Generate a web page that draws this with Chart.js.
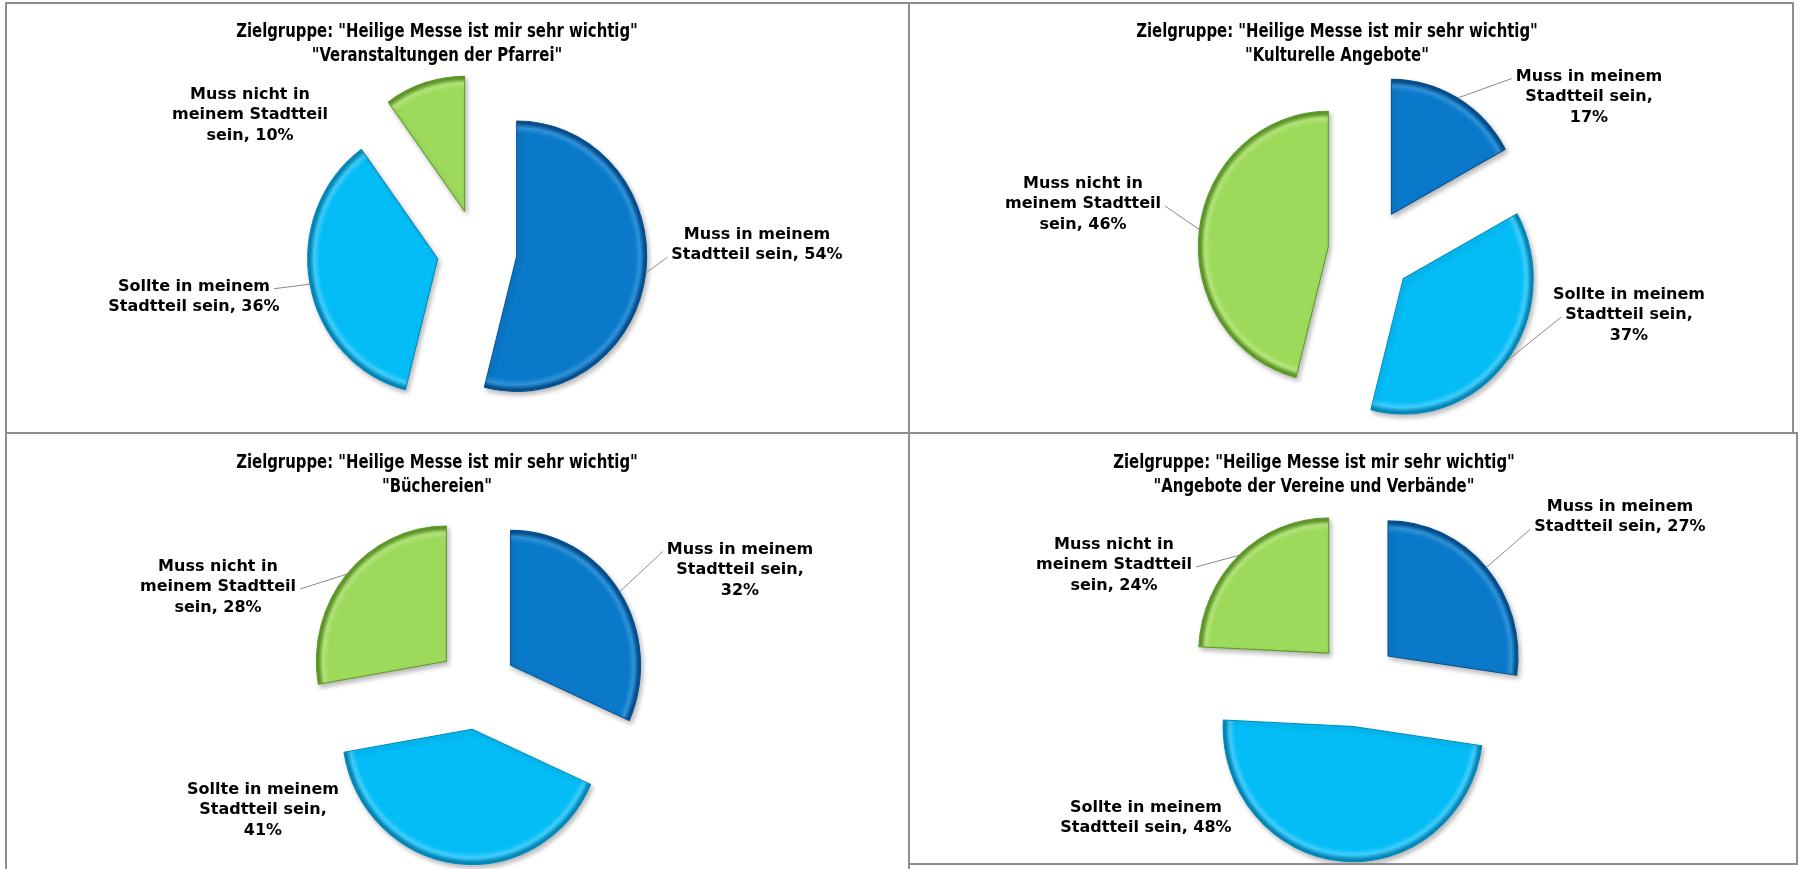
<!DOCTYPE html>
<html>
<head>
<meta charset="utf-8">
<script src="https://cdn.jsdelivr.net/npm/chart.js@4.4.1/dist/chart.umd.min.js"></script>
<style>
  html, body { margin: 0; padding: 0; background: #fff; }
  body { width: 1798px; height: 869px; position: relative; overflow: hidden; }
  .panel { position: absolute; box-sizing: border-box; border: 2px solid #8e8e8e; background: #fff; }
  .panel canvas { display: block; }
</style>
</head>
<body>
<div class="panel" style="left:5px;top:2px;width:905px;height:432px"><canvas id="c1" width="901" height="428"></canvas></div>
<div class="panel" style="left:908px;top:2px;width:886px;height:432px"><canvas id="c2" width="882" height="428"></canvas></div>
<div class="panel" style="left:5px;top:432px;width:905px;height:445px"><canvas id="c3" width="901" height="441"></canvas></div>
<div class="panel" style="left:908px;top:432px;width:890px;height:433px"><canvas id="c4" width="886" height="429"></canvas></div>
<script>
// Daten
const zielgruppe = 'Zielgruppe: "Heilige Messe ist mir sehr wichtig"';
const themen = ['"Veranstaltungen der Pfarrei"', '"Kulturelle Angebote"', '"Büchereien"', '"Angebote der Vereine und Verbände"'];
const kategorien = ['Muss in meinem Stadtteil sein', 'Sollte in meinem Stadtteil sein', 'Muss nicht in meinem Stadtteil sein'];
const veranstaltungen = [54, 36, 10];
const kulturelle = [17, 37, 46];
const buechereien = [32, 41, 28];
const vereine = [27, 48, 24];

const farben = ['#0a79c9', '#04bdf6', '#9dd95b'];
const hell = ['#2f93da', '#40cdfc', '#b4e67a'];
const dunkel = ['#05508f', '#0389ba', '#5f9a2a'];

const RADIUS = 130;
const STRETCH_Y = 1.04;   // leichte Perspektive wie im Original
const SHIFT_Y = 3;
const TITLE_FONT = "bold 19px 'DejaVu Sans Condensed', 'DejaVu Sans', sans-serif";
const TITLE_SQUEEZE = 0.87;
const LABEL_FONT = "bold 16px 'DejaVu Sans', Verdana, sans-serif";
const LINE_H = 20.5;

// Anordnung (Pixel im jeweiligen Canvas); anchor = Zeile, an der die Führungslinie ansetzt
const panels = [
  { canvas: 'c1', werte: veranstaltungen, thema: themen[0], titleX: 430, titleY: [28, 52], center: [470, 244], explode: 40,
    labels: [
      { dx: 280, dy: -3, wrap: 190, leader: true, anchor: 1 },
      { dx: -283, dy: 49, wrap: 190, leader: true, anchor: 0 },
      { dx: -227, dy: -133, wrap: 165, leader: false }
    ] },
  { canvas: 'c2', werte: kulturelle, thema: themen[1], titleX: 427, titleY: [28, 52], center: [460, 245], explode: 42,
    labels: [
      { dx: 219, dy: -152, wrap: 165, leader: true, anchor: 0 },
      { dx: 259, dy: 66, wrap: 165, leader: true, anchor: 1 },
      { dx: -287, dy: -45, wrap: 165, leader: true, anchor: 1 }
    ] },
  { canvas: 'c3', werte: buechereien, thema: themen[2], titleX: 430, titleY: [29, 53], center: [470, 251], explode: 40,
    labels: [
      { dx: 263, dy: -115, wrap: 165, leader: true, anchor: 0 },
      { dx: -214, dy: 125, wrap: 165, leader: false },
      { dx: -259, dy: -98, wrap: 165, leader: true, anchor: 1 }
    ] },
  { canvas: 'c4', werte: vereine, thema: themen[3], titleX: 404, titleY: [29, 53], center: [447, 247], explode: 41,
    labels: [
      { dx: 263, dy: -164, wrap: 190, leader: true, anchor: 1 },
      { dx: -211, dy: 137, wrap: 190, leader: false },
      { dx: -243, dy: -116, wrap: 165, leader: true, anchor: 1 }
    ] }
];

// Radialer Verlauf: Rand wie beim Excel-Relief
function schattierung(context) {
  const i = context.dataIndex;
  const area = context.chart.chartArea;
  if (!area || i === undefined) return farben[i || 0];
  const x = (area.left + area.right) / 2;
  const y = (area.top + area.bottom) / 2;
  const g = context.chart.ctx.createRadialGradient(x, y, 0, x, y, RADIUS);
  g.addColorStop(0, farben[i]);
  g.addColorStop(0.91, farben[i]);
  g.addColorStop(0.95, hell[i]);
  g.addColorStop(0.985, dunkel[i]);
  g.addColorStop(1, dunkel[i]);
  return g;
}

function umbrechen(ctx, text, maxWidth) {
  const words = text.split(' ');
  const lines = [];
  let line = '';
  words.forEach(w => {
    const test = line ? line + ' ' + w : w;
    if (line && ctx.measureText(test).width > maxWidth) {
      lines.push(line);
      line = w;
    } else {
      line = test;
    }
  });
  if (line) lines.push(line);
  return lines;
}

// Segmente auseinanderziehen, wie bei Excel
function explodePlugin(p) {
  return {
    id: 'explode',
    beforeDatasetDraw(chart, args) {
      const ctx = chart.ctx;
      args.meta.data.forEach(arc => {
        const mid = (arc.startAngle + arc.endAngle) / 2;
        ctx.save();
        ctx.translate(arc.x, arc.y + SHIFT_Y);
        ctx.scale(1, STRETCH_Y);
        ctx.translate(-arc.x, -arc.y);
        ctx.translate(Math.cos(mid) * p.explode, Math.sin(mid) * p.explode);
        ctx.shadowColor = 'rgba(0,0,0,0.28)';
        ctx.shadowBlur = 5;
        ctx.shadowOffsetX = 2;
        ctx.shadowOffsetY = 3;
        arc.draw(ctx);
        ctx.restore();
      });
      return false;
    }
  };
}

function labelPlugin(p) {
  return {
    id: 'beschriftung',
    afterDatasetsDraw(chart) {
      const ctx = chart.ctx;
      const meta = chart.getDatasetMeta(0);
      const werte = chart.data.datasets[0].data;
      ctx.save();
      ctx.fillStyle = '#000';
      ctx.textAlign = 'center';
      ctx.textBaseline = 'middle';
      ctx.font = TITLE_FONT;
      [zielgruppe, p.thema].forEach((t, i) => {
        ctx.save();
        ctx.translate(p.titleX, p.titleY[i]);
        ctx.scale(TITLE_SQUEEZE, 1);
        ctx.fillText(t, 0, 0);
        ctx.restore();
      });

      ctx.font = LABEL_FONT;
      meta.data.forEach((arc, i) => {
        const lab = p.labels[i];
        const lines = umbrechen(ctx, chart.data.labels[i] + ', ' + werte[i] + '%', lab.wrap);
        const cx = arc.x + lab.dx;
        const cy = arc.y + lab.dy;
        const lineY = k => cy + (k - (lines.length - 1) / 2) * LINE_H;
        if (lab.leader) {
          const mid = (arc.startAngle + arc.endAngle) / 2;
          const rr = arc.outerRadius + p.explode;
          const px = arc.x + Math.cos(mid) * rr;
          const py = arc.y + SHIFT_Y + Math.sin(mid) * rr * STRETCH_Y;
          const lw = ctx.measureText(lines[lab.anchor]).width;
          const qx = px < cx ? cx - lw / 2 - 4 : cx + lw / 2 + 4;
          const qy = lineY(lab.anchor) + 2;
          ctx.strokeStyle = '#8a8a8a';
          ctx.lineWidth = 1;
          ctx.beginPath();
          ctx.moveTo(px, py);
          ctx.lineTo(qx, qy);
          ctx.stroke();
        }
        lines.forEach((l, k) => ctx.fillText(l, cx, lineY(k)));
      });
      ctx.restore();
    }
  };
}

panels.forEach(p => {
  const canvas = document.getElementById(p.canvas);
  const w = canvas.width, h = canvas.height;
  const [cx, cy] = p.center;
  new Chart(canvas, {
    type: 'pie',
    data: {
      labels: kategorien,
      datasets: [{
        data: p.werte,
        backgroundColor: schattierung,
        borderColor: dunkel,
        borderWidth: 1,
        hoverOffset: 0,
        radius: RADIUS
      }]
    },
    options: {
      responsive: false,
      animation: false,
      events: [],
      layout: {
        padding: {
          left: Math.max(0, 2 * cx - w),
          right: Math.max(0, w - 2 * cx),
          top: Math.max(0, 2 * cy - h),
          bottom: Math.max(0, h - 2 * cy)
        }
      },
      plugins: {
        legend: { display: false },
        title: { display: false },
        tooltip: { enabled: false }
      }
    },
    plugins: [explodePlugin(p), labelPlugin(p)]
  });
});
</script>
</body>
</html>
